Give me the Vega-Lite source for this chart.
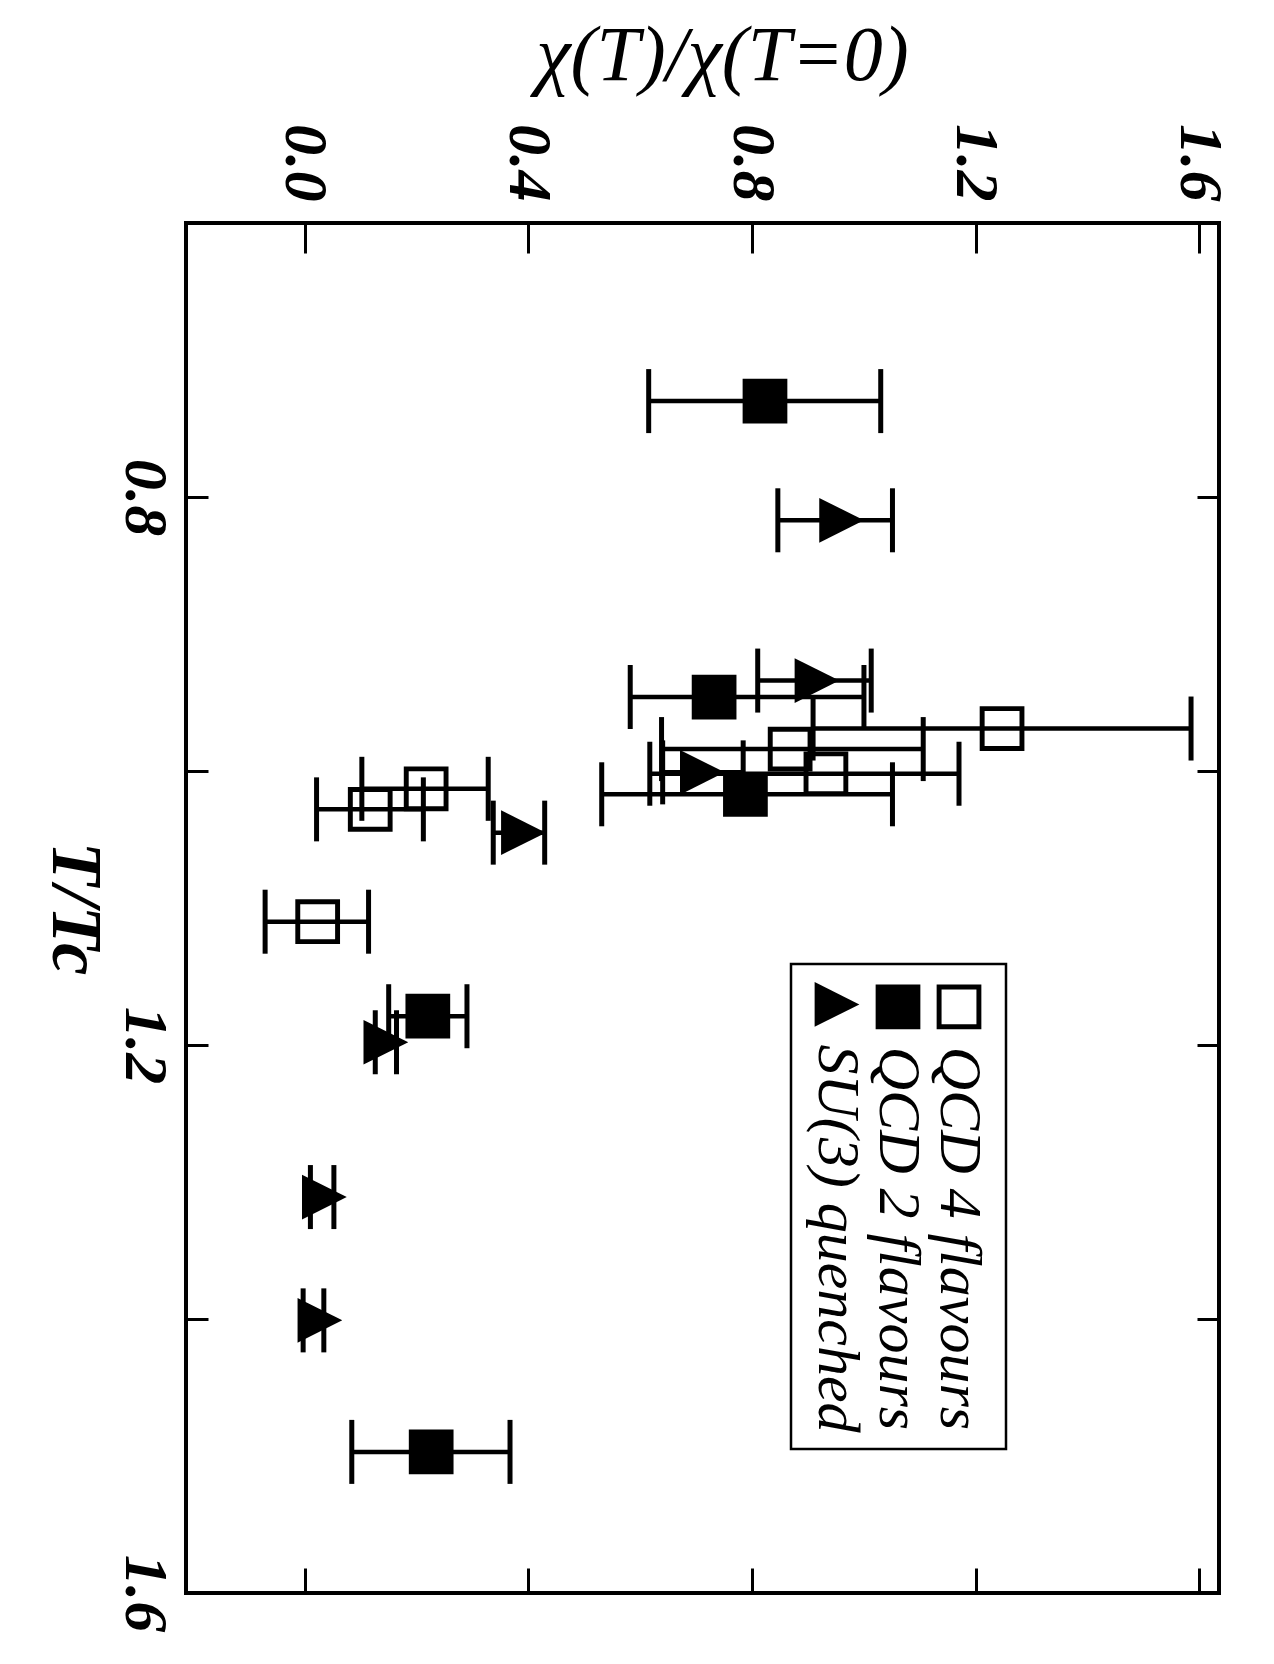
{
  "$schema": "https://vega.github.io/schema/vega-lite/v6.json",
  "width": 1033,
  "height": 1370,
  "autosize": {"type": "none"},
  "padding": {"left": 186, "top": 223, "right": 55, "bottom": 71},
  "background": "white",
  "config": {
    "view": {"stroke": "black", "strokeWidth": 4},
    "axis": {
      "domain": false,
      "grid": false,
      "tickColor": "black",
      "tickWidth": 3,
      "labelColor": "black",
      "labelFont": "Liberation Serif",
      "labelFontStyle": "italic",
      "labelFontWeight": "bold",
      "labelFontSize": 62,
      "titleColor": "black",
      "titleFont": "Liberation Serif",
      "titleFontStyle": "italic"
    }
  },
  "data": {
    "values": [
      {"series": "QCD 2 flavours", "T": 0.730, "chi": 0.823, "lo": 0.615, "hi": 1.030},
      {"series": "QCD 2 flavours", "T": 0.946, "chi": 0.732, "lo": 0.582, "hi": 1.000},
      {"series": "QCD 2 flavours", "T": 1.017, "chi": 0.788, "lo": 0.531, "hi": 1.051},
      {"series": "QCD 2 flavours", "T": 1.179, "chi": 0.220, "lo": 0.150, "hi": 0.290},
      {"series": "QCD 2 flavours", "T": 1.497, "chi": 0.226, "lo": 0.084, "hi": 0.367},
      {"series": "QCD 4 flavours", "T": 0.969, "chi": 1.247, "lo": 0.909, "hi": 1.585},
      {"series": "QCD 4 flavours", "T": 0.984, "chi": 0.868, "lo": 0.638, "hi": 1.106},
      {"series": "QCD 4 flavours", "T": 1.002, "chi": 0.932, "lo": 0.617, "hi": 1.170},
      {"series": "QCD 4 flavours", "T": 1.013, "chi": 0.217, "lo": 0.102, "hi": 0.328},
      {"series": "QCD 4 flavours", "T": 1.028, "chi": 0.117, "lo": 0.021, "hi": 0.212},
      {"series": "QCD 4 flavours", "T": 1.110, "chi": 0.023, "lo": -0.071, "hi": 0.114},
      {"series": "SU(3) quenched", "T": 0.817, "chi": 0.960, "lo": 0.846, "hi": 1.051},
      {"series": "SU(3) quenched", "T": 0.934, "chi": 0.916, "lo": 0.810, "hi": 1.013},
      {"series": "SU(3) quenched", "T": 1.001, "chi": 0.711, "lo": 0.640, "hi": 0.784},
      {"series": "SU(3) quenched", "T": 1.045, "chi": 0.391, "lo": 0.337, "hi": 0.429},
      {"series": "SU(3) quenched", "T": 1.198, "chi": 0.145, "lo": 0.126, "hi": 0.164},
      {"series": "SU(3) quenched", "T": 1.311, "chi": 0.035, "lo": 0.010, "hi": 0.052},
      {"series": "SU(3) quenched", "T": 1.401, "chi": 0.027, "lo": -0.003, "hi": 0.034}
    ]
  },
  "resolve": {"axis": {"x": "independent", "y": "independent"}},
  "layer": [
    {
      "mark": {
        "type": "errorbar",
        "color": "black",
        "ticks": {"size": 64, "thickness": 5, "color": "black", "opacity": 1},
        "rule": {"strokeWidth": 4.5, "color": "black", "opacity": 1}
      },
      "encoding": {
        "x": {
          "field": "lo",
          "type": "quantitative",
          "scale": {"domain": [-0.2125, 1.635], "nice": false, "zero": false},
          "axis": {
            "orient": "top",
            "values": [0, 0.4, 0.8, 1.2, 1.6],
            "format": ".1f",
            "tickSize": -30,
            "labelPadding": 52,
            "labelAngle": 90,
            "labelAlign": "right",
            "labelBaseline": "middle",
            "title": "χ(T)/χ(T=0)",
            "titleFontSize": 78,
            "titleFontWeight": "normal",
            "titlePadding": 28,
            "titleX": 536
          }
        },
        "x2": {"field": "hi"},
        "y": {
          "field": "T",
          "type": "quantitative",
          "scale": {"domain": [0.6, 1.6], "nice": false, "zero": false, "reverse": true},
          "axis": {
            "orient": "left",
            "values": [0.8, 1.0, 1.2, 1.4, 1.6],
            "labelExpr": "(datum.value > 0.95 && datum.value < 1.05) || (datum.value > 1.35 && datum.value < 1.45) ? '' : format(datum.value, '.1f')",
            "tickSize": -22,
            "labelPadding": 34,
            "labelAngle": 90,
            "labelAlign": "center",
            "labelBaseline": "top",
            "title": "T/Tc",
            "titleAngle": 90,
            "titleBaseline": "top",
            "titleFontSize": 72,
            "titleFontWeight": "bold",
            "titlePadding": 4
          }
        }
      }
    },
    {
      "mark": {"type": "point", "filled": true, "size": 2000, "color": "black", "opacity": 1, "strokeWidth": 0},
      "encoding": {
        "x": {
          "field": "chi",
          "type": "quantitative",
          "scale": {"domain": [-0.2125, 1.635], "nice": false, "zero": false},
          "axis": {"orient": "bottom", "values": [0, 0.4, 0.8, 1.2, 1.6], "labels": false, "title": null, "tickSize": -25}
        },
        "y": {
          "field": "T",
          "type": "quantitative",
          "scale": {"domain": [0.6, 1.6], "nice": false, "zero": false, "reverse": true},
          "axis": {"orient": "right", "values": [0.8, 1.0, 1.2, 1.4], "labels": false, "title": null, "tickSize": -22}
        },
        "shape": {
          "field": "series",
          "type": "nominal",
          "scale": {
            "domain": ["SU(3) quenched", "QCD 2 flavours", "QCD 4 flavours"],
            "range": ["M-1,-1L1,0L-1,1Z", "M-1,-1H1V1H-1Z", "M-1,-1H1V1H-1Z M-0.78,-0.78V0.78H0.78V-0.78Z"]
          },
          "legend": {
            "orient": "none",
            "legendX": 605,
            "legendY": 741,
            "direction": "horizontal",
            "columns": 3,
            "title": null,
            "padding": 16,
            "strokeColor": "black",
            "fillColor": "white",
            "symbolSize": 2000,
            "symbolFillColor": "black",
            "symbolStrokeWidth": 0,
            "symbolOpacity": 1,
            "labelFont": "Liberation Serif",
            "labelFontStyle": "italic",
            "labelFontSize": 60,
            "labelColor": "black",
            "labelLimit": 0,
            "columnPadding": 0,
            "encoding": {
              "legend": {"strokeWidth": {"value": 2.5}},
              "symbols": {"x": {"value": 30}, "y": {"value": 24}},
              "labels": {"x": {"value": 30}, "y": {"value": 64}, "angle": {"value": 90}, "align": {"value": "left"}, "baseline": {"value": "middle"}}
            }
          }
        }
      }
    }
  ]
}
